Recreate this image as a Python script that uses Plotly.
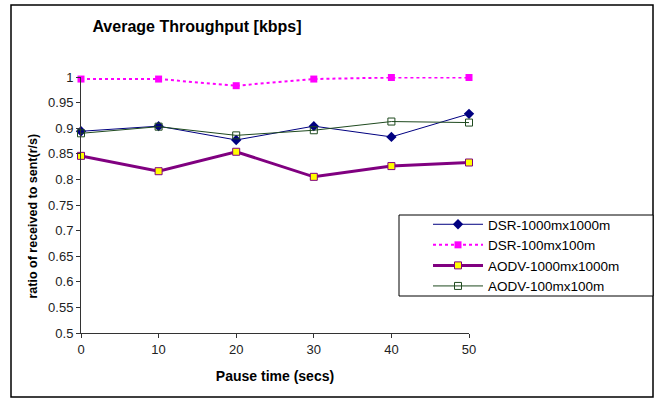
import plotly.graph_objects as go

pause_time = [0, 10, 20, 30, 40, 50]
dsr_1000 = [0.894, 0.904, 0.877, 0.904, 0.883, 0.928]
dsr_100 = [0.996, 0.996, 0.983, 0.996, 0.999, 0.999]
aodv_1000 = [0.846, 0.816, 0.854, 0.805, 0.826, 0.833]
aodv_100 = [0.890, 0.903, 0.886, 0.896, 0.913, 0.911]
y_ticks = [0.5, 0.55, 0.6, 0.65, 0.7, 0.75, 0.8, 0.85, 0.9, 0.95, 1]
y_tick_labels = ["0.5", "0.55", "0.6", "0.65", "0.7", "0.75", "0.8", "0.85", "0.9", "0.95", "1"]

fig = go.Figure()
fig.add_trace(go.Scatter(x=pause_time, y=dsr_1000, name="DSR-1000mx1000m", mode="lines+markers",
                         line=dict(color="#000080", width=1),
                         marker=dict(symbol="diamond", size=8, color="#000080")))
fig.add_trace(go.Scatter(x=pause_time, y=dsr_100, name="DSR-100mx100m", mode="lines+markers",
                         line=dict(color="#FF00FF", width=2, dash="dot"),
                         marker=dict(symbol="square", size=7, color="#FF00FF")))
fig.add_trace(go.Scatter(x=pause_time, y=aodv_1000, name="AODV-1000mx1000m", mode="lines+markers",
                         line=dict(color="#800080", width=3),
                         marker=dict(symbol="square", size=7, color="#FFFF00",
                                     line=dict(color="#800080", width=1))))
fig.add_trace(go.Scatter(x=pause_time, y=aodv_100, name="AODV-100mx100m", mode="lines+markers",
                         line=dict(color="#1F4A1F", width=1),
                         marker=dict(symbol="square-open", size=7, color="#1F4A1F",
                                     line=dict(width=1))))

L, R, T, B = 81, 469, 77, 333
W, H = 657, 399
pw, ph = R - L, B - T

def px(x):
    return (x - L) / pw

def py(y):
    return (B - y) / ph

# outer chart frame
fig.add_shape(type="rect", xref="paper", yref="paper",
              x0=px(11), x1=px(653), y0=py(397), y1=py(5),
              line=dict(color="black", width=1.5), layer="below")
# legend frame
fig.add_shape(type="rect", xref="paper", yref="paper",
              x0=px(399), x1=px(653), y0=py(296), y1=py(215),
              line=dict(color="black", width=1), fillcolor="white", layer="below")

fig.add_annotation(text="<b>ratio of received to sent(r/s)</b>", xref="paper", yref="paper",
                   x=px(32), y=py(216.5), xanchor="center", yanchor="middle",
                   textangle=-90, showarrow=False, font=dict(size=12.5, color="black"))

fig.update_layout(
    width=W, height=H,
    margin=dict(l=L, r=W - R, t=T, b=H - B, autoexpand=False),
    paper_bgcolor="white", plot_bgcolor="white",
    font=dict(family="Arial, Liberation Sans, sans-serif", size=12, color="black"),
    title=dict(text="<b>Average Throughput [kbps]</b>", x=197 / W, xanchor="center",
               y=1 - 26 / H, yanchor="middle", font=dict(size=16, color="black")),
    xaxis=dict(range=[0, 50], tickvals=pause_time, ticktext=[str(v) for v in pause_time],
               showgrid=False, zeroline=False, showline=True, linecolor="#333333", linewidth=1,
               ticks="outside", ticklen=4, tickcolor="#333333",
               title=dict(text="<b>Pause time (secs)</b>", font=dict(size=14), standoff=15),
               tickfont=dict(size=13, color="#222222")),
    yaxis=dict(range=[0.5, 1], tickvals=y_ticks, ticktext=y_tick_labels,
               showgrid=False, zeroline=False, showline=True, linecolor="#333333", linewidth=1,
               ticks="outside", ticklen=4, tickcolor="#333333",
               tickfont=dict(size=13, color="#222222")),
    legend=dict(x=px(428), y=py(255.5), xanchor="left", yanchor="middle",
                borderwidth=0, bgcolor="rgba(0,0,0,0)",
                font=dict(size=13.5, color="black"), tracegroupgap=0,
                itemwidth=50),
    showlegend=True,
)
for tr in fig.data:
    tr.cliponaxis = False

fig.write_html("out.html")
